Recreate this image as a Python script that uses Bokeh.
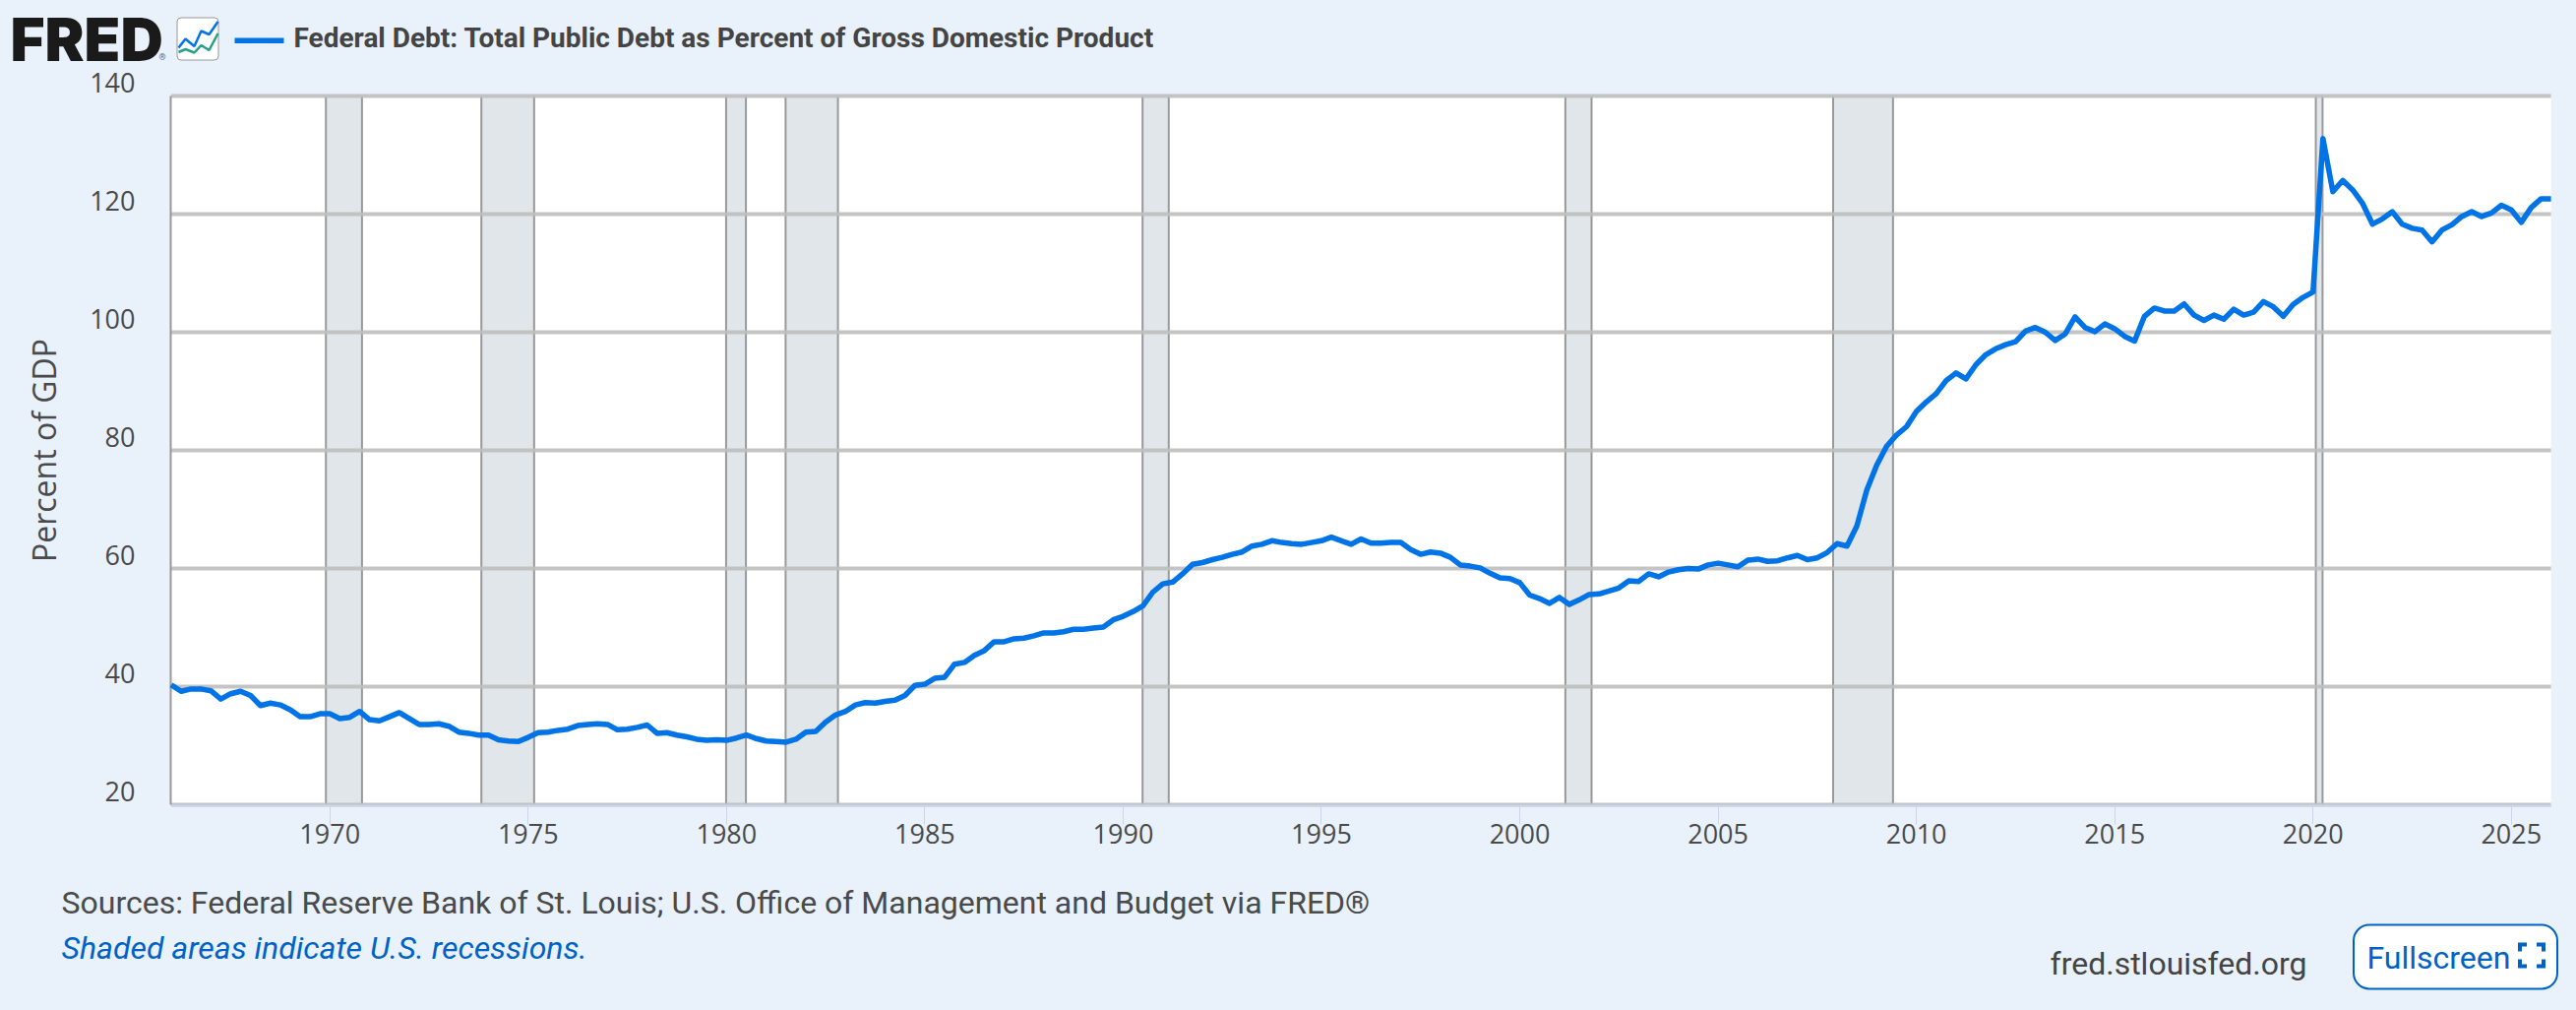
from bokeh.embed import file_html
from bokeh.resources import INLINE
from bokeh.plotting import figure
from bokeh.models import (ColumnDataSource, FixedTicker, Label, BoxAnnotation,
                          PolyAnnotation, Range1d, LinearAxis)

debt = [
    40.3, 39.2, 39.6, 39.6, 39.3, 37.9, 38.8, 39.2, 38.5, 36.8, 37.2, 36.9,
    36.1, 34.9, 34.9, 35.4, 35.4, 34.6, 34.8, 35.8, 34.4, 34.2, 34.9, 35.6,
    34.6, 33.6, 33.6, 33.7, 33.3, 32.3, 32.1, 31.8, 31.8, 31.0, 30.8, 30.7,
    31.4, 32.2, 32.3, 32.6, 32.8, 33.4, 33.6, 33.7, 33.6, 32.7, 32.8, 33.1,
    33.5, 32.1, 32.2, 31.8, 31.5, 31.1, 30.9, 31.0, 30.9, 31.3, 31.8, 31.2,
    30.8, 30.7, 30.6, 31.1, 32.3, 32.4, 34.0, 35.2, 35.8, 36.9, 37.3, 37.2,
    37.5, 37.7, 38.5, 40.2, 40.4, 41.4, 41.6, 43.8, 44.1, 45.3, 46.1, 47.6,
    47.6, 48.1, 48.2, 48.6, 49.1, 49.1, 49.3, 49.7, 49.7, 49.9, 50.1, 51.3,
    51.9, 52.7, 53.7, 56.0, 57.4, 57.7, 59.1, 60.7, 61.0, 61.5, 61.9, 62.4,
    62.8, 63.8, 64.1, 64.7, 64.4, 64.2, 64.1, 64.4, 64.7, 65.3, 64.7, 64.1,
    65.0, 64.3, 64.3, 64.4, 64.4, 63.2, 62.4, 62.8, 62.6, 61.9, 60.6, 60.4,
    60.1, 59.2, 58.4, 58.3, 57.6, 55.5, 54.9, 54.1, 55.1, 53.9, 54.7, 55.6,
    55.7, 56.2, 56.7, 57.9, 57.8, 59.1, 58.6, 59.4, 59.8, 60.0, 59.9, 60.6,
    60.9, 60.6, 60.3, 61.4, 61.6, 61.2, 61.3, 61.8, 62.2, 61.5, 61.8, 62.7,
    64.2, 63.8, 67.2, 73.3, 77.5, 80.7, 82.6, 84.0, 86.6, 88.2, 89.6, 91.8,
    93.1, 92.1, 94.5, 96.2, 97.2, 97.9, 98.4, 100.2, 100.8, 100.0, 98.6, 99.7,
    102.6, 100.8, 100.1, 101.4, 100.6, 99.3, 98.5, 102.7, 104.1, 103.6, 103.6, 104.8,
    102.9, 102.0, 102.9, 102.2, 103.9, 102.9, 103.4, 105.2, 104.3, 102.7, 104.7, 105.9,
    106.8, 132.8, 123.8, 125.7, 124.1, 121.8, 118.3, 119.2, 120.4, 118.3, 117.6, 117.3,
    115.3, 117.3, 118.2, 119.6, 120.4, 119.6, 120.2, 121.5, 120.7, 118.6, 121.1, 122.6,
    122.6,
]
quarters = [1966 + i / 4 for i in range(len(debt))]
recession_start = [1969.90, 1973.82, 1979.99, 1981.49, 1990.49, 2001.15, 2007.90, 2020.07]
recession_end = [1970.81, 1975.15, 1980.49, 1982.81, 1991.15, 2001.81, 2009.41, 2020.24]
y_ticks = [20, 40, 60, 80, 100, 120, 140]
x_ticks = [1970, 1975, 1980, 1985, 1990, 1995, 2000, 2005, 2010, 2015, 2020, 2025]
title_text = "Federal Debt: Total Public Debt as Percent of Gross Domestic Product"
source_text = "Sources: Federal Reserve Bank of St. Louis; U.S. Office of Management and Budget via FRED®"
note_text = "Shaded areas indicate U.S. recessions."

BG = "#e9f1fb"
BLUE = "#0073e6"
LINK = "#0062c4"
TXT = "#4a4a4a"

W, H = 2618, 1026
XPX, YPX = 40.31, 6.0      # pixels per year, pixels per percent
X0PX, Y0PX = 173.5, 817.0  # window position of 1966 and of 20 percent
x_start, x_end = 1966 - X0PX / XPX, 1966 + (W - X0PX) / XPX
y_start, y_end = 20 - (H - Y0PX) / YPX, 20 + Y0PX / YPX

p = figure(width=W, height=H, output_backend="svg", toolbar_location=None,
           x_range=Range1d(x_start, x_end), y_range=Range1d(y_start, y_end),
           frame_width=W, frame_height=H,
           min_border_left=0, min_border_right=0, min_border_top=0, min_border_bottom=0,
           x_axis_type=None, y_axis_type=None,
           background_fill_color=BG, border_fill_color=BG)
p.outline_line_color = None
p.extra_y_ranges = {"labels": Range1d(y_start - 14 / YPX, y_end - 14 / YPX)}

# x axis
xaxis = LinearAxis(ticker=FixedTicker(ticks=x_ticks), fixed_location=20 - 1 / YPX, bounds=(1966, 2026))
xaxis.major_label_overrides = {t: str(t) for t in x_ticks}
xaxis.axis_line_color = "#ccd6eb"
xaxis.axis_line_width = 2
xaxis.major_tick_line_color = "#ccd6eb"
xaxis.major_tick_line_width = 1
xaxis.major_tick_in = 0
xaxis.major_tick_out = 19
xaxis.minor_tick_line_color = None
xaxis.major_label_standoff = -1
xaxis.major_label_text_font = "Open Sans"
xaxis.major_label_text_font_size = "27px"
xaxis.major_label_text_color = TXT
p.add_layout(xaxis, "below")

# y axis: line and title
yaxis = LinearAxis(ticker=FixedTicker(ticks=y_ticks), fixed_location=1966 - 0.5 / XPX, bounds=(20, 140))
yaxis.major_label_overrides = {t: "" for t in y_ticks}
yaxis.axis_line_color = "#999999"
yaxis.axis_line_width = 2
yaxis.major_tick_line_color = None
yaxis.minor_tick_line_color = None
yaxis.axis_label = "Percent of GDP"
yaxis.axis_label_standoff = 102
yaxis.axis_label_text_font = "Open Sans"
yaxis.axis_label_text_font_style = "normal"
yaxis.axis_label_text_font_size = "32px"
yaxis.axis_label_text_color = TXT
p.add_layout(yaxis, "left")

# y axis labels sit above their grid lines
ylabels = LinearAxis(ticker=FixedTicker(ticks=y_ticks), y_range_name="labels", fixed_location=1966 - 0.5 / XPX)
ylabels.axis_line_color = None
ylabels.major_tick_line_color = None
ylabels.minor_tick_line_color = None
ylabels.major_label_standoff = 30
ylabels.major_label_text_font = "Open Sans"
ylabels.major_label_text_font_size = "27px"
ylabels.major_label_text_color = TXT
p.add_layout(ylabels, "left")

# plot area
n_ticks = len(y_ticks)
p.quad(left=[1966], right=[2026], bottom=[20], top=[140], fill_color="white", line_color=None, level="underlay")
band_src = ColumnDataSource(dict(left=recession_start, right=recession_end,
                                 bottom=[20] * len(recession_start), top=[140] * len(recession_start)))
p.quad(left="left", right="right", bottom="bottom", top="top", source=band_src,
       fill_color="#e1e6ea", line_color=None, level="underlay")
p.segment(x0="left", x1="left", y0="bottom", y1="top", source=band_src,
          line_color="#999999", line_width=2, level="underlay")
p.segment(x0="right", x1="right", y0="bottom", y1="top", source=band_src,
          line_color="#999999", line_width=2, level="underlay")
p.segment(x0=[1966] * n_ticks, x1=[2026] * n_ticks, y0=y_ticks, y1=y_ticks,
          line_color="#bebebe", line_alpha=0.9, line_width=4, level="glyph")

p.line(quarters, debt, line_color=BLUE, line_width=5.5, line_join="round", level="overlay")


def sx(v):
    return v


def sy(v):
    return H - v


def label(text, x, y, size, color, font="Roboto", style="normal", level="annotation"):
    # the label's box puts the baseline about a third of the size below the anchor
    p.add_layout(Label(x=sx(x), y=sy(y + 1.5 - 0.35 * size), x_units="screen", y_units="screen", text=text,
                       text_font=font, text_font_size=f"{size}px", text_font_style=style,
                       text_color=color, text_align="left", text_baseline="alphabetic", level=level))


def box(l, r, t, b, fill, line_color=None, line_width=0, radius=0):
    p.add_layout(BoxAnnotation(left=sx(l), right=sx(r), top=sy(t), bottom=sy(b),
                               left_units="screen", right_units="screen",
                               top_units="screen", bottom_units="screen",
                               fill_color=fill, fill_alpha=1, line_color=line_color,
                               line_width=line_width, line_alpha=1, border_radius=radius,
                               level="annotation"))


def poly(xs, ys, fill=None, color=None, width=1):
    p.add_layout(PolyAnnotation(xs=[sx(v) for v in xs], ys=[sy(v) for v in ys],
                                xs_units="screen", ys_units="screen",
                                fill_color=fill, fill_alpha=1 if fill else 0,
                                line_color=color, line_width=width, line_alpha=1, level="overlay"))


# logo and legend
label("FRED", 10, 58.5, 60, "#1a1a1a", font="Inter Black", style="bold")
label("®", 161, 59.5, 9, "#666666")
box(179.5, 221.5, 17.5, 60.5, "white", "#999999", 1, 4)
bx = [181, 188, 197, 204, 212, 221]
by = [48, 39, 46.5, 31, 34.5, 21.5]
poly(bx + bx[::-1], by + by[::-1], color=BLUE, width=2.5)
gy = [52.5, 49.5, 53, 45.5, 50.5, 33.5]
poly(bx + bx[::-1], gy + gy[::-1], color="#27a08a", width=2.5)
box(238, 288, 38, 43.5, BLUE)
label(title_text, 298, 46.7, 28, "#444444", style="bold")

# footer
label(source_text, 62, 925.7, 32, TXT)
label(note_text, 62, 971.7, 32, LINK, style="italic")
label("fred.stlouisfed.org", 2083, 988, 32, "#444444")
box(2391.5, 2598.5, 939, 1004, "white", LINK, 2, 16)
label("Fullscreen", 2405, 981.7, 32, LINK, level="overlay")
L, R, T, B, a, th = 2558.5, 2586.5, 957, 983, 9, 4
for cx, cy, dx, dy in [(L, T, 1, 1), (R, T, -1, 1), (L, B, 1, -1), (R, B, -1, -1)]:
    poly([cx, cx + a * dx, cx + a * dx, cx + th * dx, cx + th * dx, cx],
         [cy, cy, cy + th * dy, cy + th * dy, cy + a * dy, cy + a * dy], fill=LINK)

html = file_html(p, INLINE)
html = html.replace("<head>", f"<head><style>html,body{{margin:0;background:{BG};}}</style>", 1)
open("out.html", "w").write(html)
